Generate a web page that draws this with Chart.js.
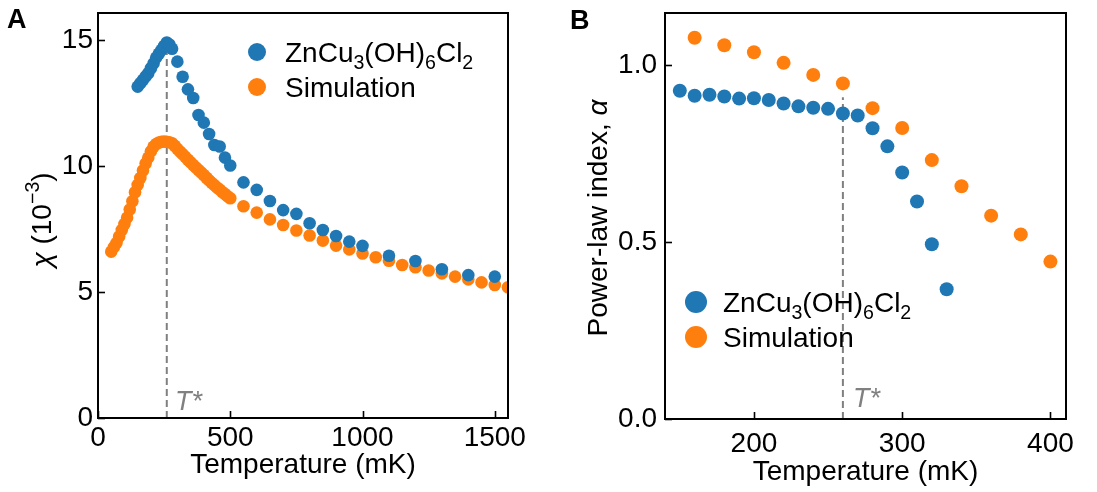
<!DOCTYPE html>
<html>
<head>
<meta charset="utf-8">
<script src="https://cdn.jsdelivr.net/npm/chart.js@4.4.0/dist/chart.umd.min.js"></script>
<style>
  html, body { margin: 0; padding: 0; background: #ffffff; }
  #wrap { position: relative; width: 1097px; height: 492px; overflow: hidden; }
  canvas { position: absolute; top: 0; }
  #chartA { left: 0; }
  #chartB { left: 548px; }
</style>
</head>
<body>
<div id="wrap">
  <canvas id="chartA" width="548" height="492"></canvas>
  <canvas id="chartB" width="549" height="492"></canvas>
</div>
<script>
// ---- Panel A: susceptibility vs temperature ----
const kagomeTempA = [150, 160, 170, 180, 190, 200, 210, 220, 230, 240, 250, 260, 270, 280,
  300, 320, 340, 360, 380, 400, 420, 440, 460, 480, 500,
  550, 600, 650, 700, 750, 800, 850, 900, 950, 1000, 1100, 1200, 1300, 1400, 1500];
const kagomeChiA = [13.15, 13.28, 13.41, 13.55, 13.68, 13.88, 14.07, 14.30, 14.45, 14.60, 14.76, 14.90, 14.82, 14.65,
  14.14, 13.54, 13.04, 12.70, 12.02, 11.72, 11.27, 10.83, 10.77, 10.33, 10.02,
  9.35, 9.05, 8.61, 8.25, 8.10, 7.73, 7.46, 7.22, 7.00, 6.83, 6.44, 6.23, 5.90, 5.67, 5.61];

const simTempA = [50, 60, 70, 80, 90, 100, 110, 120, 130, 140, 150, 160, 170, 180, 190, 200,
  210, 220, 230, 240, 250, 260, 270, 280, 290, 300, 310, 320, 330, 340, 350, 360, 370, 380,
  390, 400, 410, 420, 430, 440, 450, 460, 470, 480, 490, 500,
  550, 600, 650, 700, 750, 800, 850, 900, 950, 1000, 1050, 1100, 1150, 1200, 1250, 1300,
  1350, 1400, 1450, 1500, 1550];
const simChiA = [6.60, 6.78, 6.95, 7.20, 7.46, 7.70, 7.95, 8.27, 8.60, 8.96, 9.25, 9.52, 9.82, 10.10, 10.33, 10.58,
  10.76, 10.87, 10.93, 10.96, 10.97, 10.96, 10.94, 10.90, 10.80, 10.68, 10.57, 10.47, 10.36, 10.25, 10.15, 10.04, 9.94, 9.84,
  9.74, 9.64, 9.53, 9.43, 9.33, 9.24, 9.14, 9.06, 8.97, 8.89, 8.80, 8.72,
  8.40, 8.15, 7.88, 7.66, 7.44, 7.24, 7.04, 6.84, 6.69, 6.53, 6.38, 6.24, 6.07, 5.98, 5.85, 5.74,
  5.61, 5.50, 5.38, 5.28, 5.19];

const ticksXA = [0, 500, 1000, 1500];
const ticksYA = [0, 5, 10, 15];

// ---- Panel B: power-law index vs temperature ----
const kagomeTempB = [150, 160, 170, 180, 190, 200, 210, 220, 230, 240, 250, 260, 270, 280, 290, 300, 310, 320, 330];
const kagomeAlphaB = [0.928, 0.914, 0.917, 0.912, 0.906, 0.907, 0.902, 0.892, 0.884, 0.880, 0.877, 0.864, 0.858,
  0.822, 0.771, 0.697, 0.615, 0.494, 0.367];
const simTempB = [160, 180, 200, 220, 240, 260, 280, 300, 320, 340, 360, 380, 400];
const simAlphaB = [1.078, 1.057, 1.037, 1.007, 0.973, 0.949, 0.879, 0.823, 0.732, 0.658, 0.575, 0.522, 0.445];

const ticksXB = [200, 300, 400];
const ticksYB = [0.0, 0.5, 1.0];

// crossover temperature T* and the heights of its marker line
const tStar = 260;
const tStarTopA = 14.85;
const tStarTopB = 0.91;

const seriesNames = ['ZnCu3(OH)6Cl2', 'Simulation'];

const BLUE = '#1f77b4';
const ORANGE = '#ff7f0e';
const GREY = '#808080';
const FONT = '"Liberation Sans", Arial, Helvetica, sans-serif';
const TXT = 28;

Chart.defaults.font.family = FONT;
Chart.defaults.color = '#000000';

function pts(xs, ys) { return xs.map((x, i) => ({ x: x, y: ys[i] })); }

// text with sub/superscript pieces, drawn left to right from (x, y) baseline
function richWidth(ctx, parts, size) {
  let w = 0;
  parts.forEach(p => {
    const s = (p.sub || p.sup) ? size * 0.7 : size;
    ctx.font = (p.italic ? 'italic ' : '') + s + 'px ' + FONT;
    w += ctx.measureText(p.t).width;
  });
  return w;
}
function drawRich(ctx, parts, x, y, size, color) {
  ctx.fillStyle = color || '#000';
  ctx.textBaseline = 'alphabetic';
  ctx.textAlign = 'left';
  parts.forEach(p => {
    const s = (p.sub || p.sup) ? size * 0.7 : size;
    ctx.font = (p.italic ? 'italic ' : '') + s + 'px ' + FONT;
    let dy = 0;
    if (p.sub) dy = size * 0.24;
    if (p.sup) dy = -size * 0.42;
    ctx.fillText(p.t, x, y + dy);
    x += ctx.measureText(p.t).width;
  });
}

const formulaParts = [{ t: 'ZnCu' }, { t: '3', sub: true }, { t: '(OH)' }, { t: '6', sub: true }, { t: 'Cl' }, { t: '2', sub: true }];

function panelPlugin(o) {
  return {
    id: 'panel' + o.letter,
    afterDatasetsDraw(chart) {
      const ctx = chart.ctx;
      const a = chart.chartArea;
      const xs = chart.scales.x, ys = chart.scales.y;
      ctx.save();
      ctx.strokeStyle = '#000';
      ctx.lineWidth = 1.6;
      // inward tick marks
      xs.ticks.forEach(t => {
        const px = Math.round(xs.getPixelForValue(t.value)) + 0.5;
        ctx.beginPath(); ctx.moveTo(px, a.bottom); ctx.lineTo(px, a.bottom - 7); ctx.stroke();
      });
      ys.ticks.forEach(t => {
        const py = Math.round(ys.getPixelForValue(t.value)) + 0.5;
        ctx.beginPath(); ctx.moveTo(a.left, py); ctx.lineTo(a.left + 7, py); ctx.stroke();
      });
      // frame
      ctx.lineWidth = 2;
      ctx.strokeRect(a.left, a.top, a.right - a.left, a.bottom - a.top);
      ctx.restore();
    },
    afterDraw(chart) {
      const ctx = chart.ctx;
      const a = chart.chartArea;
      const off = o.offset;
      ctx.save();
      // panel letter
      ctx.fillStyle = '#000';
      ctx.font = 'bold 27px ' + FONT;
      ctx.textAlign = 'left';
      ctx.textBaseline = 'alphabetic';
      ctx.fillText(o.letter, o.letterX - off, o.letterY);
      // T* label
      drawRich(ctx, [{ t: 'T*', italic: true }], o.tLabelX - off, o.tLabelY, 27, GREY);
      // x title
      ctx.fillStyle = '#000';
      ctx.font = TXT + 'px ' + FONT;
      ctx.textAlign = 'center';
      ctx.fillText('Temperature (mK)', (a.left + a.right) / 2, o.xTitleY);
      // y title, rotated
      ctx.translate(o.yTitleX - off, o.yTitleY);
      ctx.rotate(-Math.PI / 2);
      const w = richWidth(ctx, o.yTitleParts, TXT);
      drawRich(ctx, o.yTitleParts, -w / 2, 10, TXT, '#000');
      ctx.setTransform(1, 0, 0, 1, 0, 0);
      // legend
      const L = o.legend;
      [BLUE, ORANGE].forEach((c, i) => {
        const cy = L.y0 + i * L.dy;
        ctx.beginPath();
        ctx.arc(L.mx - off, cy, L.r, 0, Math.PI * 2);
        ctx.fillStyle = c;
        ctx.fill();
        const parts = i === 0 ? formulaParts : [{ t: seriesNames[1] }];
        drawRich(ctx, parts, L.tx - off, cy + 10, TXT, '#000');
      });
      ctx.restore();
    }
  };
}

function makeChart(id, o) {
  const fixTicks = arr => scale => { scale.ticks = arr.map(v => ({ value: v })); };
  return new Chart(document.getElementById(id), {
    type: 'scatter',
    data: {
      datasets: [
        {
          label: seriesNames[0],
          data: pts(o.blueX, o.blueY),
          backgroundColor: BLUE, borderWidth: 0,
          pointRadius: o.r, pointHoverRadius: o.r, order: 1, clip: 0
        },
        {
          label: seriesNames[1],
          data: pts(o.orangeX, o.orangeY),
          backgroundColor: ORANGE, borderWidth: 0,
          pointRadius: o.r, pointHoverRadius: o.r, order: 2, clip: 0
        },
        {
          label: 'T*',
          type: 'line',
          data: [{ x: tStar, y: 0 }, { x: tStar, y: o.tTop }],
          borderColor: GREY, borderWidth: 2, borderDash: [7, 4],
          pointRadius: 0, showLine: true, fill: false, order: 3
        }
      ]
    },
    options: {
      responsive: false,
      devicePixelRatio: 1,
      animation: false,
      events: [],
      layout: { padding: { left: 0, top: o.padTop, right: o.padRight, bottom: 0 } },
      plugins: { legend: { display: false }, tooltip: { enabled: false } },
      scales: {
        x: {
          type: 'linear', min: o.xMin, max: o.xMax,
          grid: { display: false, drawTicks: false },
          border: { display: false },
          afterBuildTicks: fixTicks(o.ticksX),
          afterFit: s => { s.height = o.xAxisH; s.paddingLeft = 0; s.paddingRight = 0; },
          ticks: { font: { size: TXT }, color: '#000', padding: o.xTickPad, maxRotation: 0,
                   callback: o.xFmt }
        },
        y: {
          type: 'linear', min: o.yMin, max: o.yMax,
          grid: { display: false, drawTicks: false },
          border: { display: false },
          afterBuildTicks: fixTicks(o.ticksY),
          afterFit: s => { s.width = o.yAxisW; s.paddingTop = 0; s.paddingBottom = 0; },
          ticks: { font: { size: TXT }, color: '#000', padding: o.yTickPad,
                   callback: o.yFmt }
        }
      }
    },
    plugins: [panelPlugin(o)]
  });
}

makeChart('chartA', {
  letter: 'A', offset: 0, letterX: 7, letterY: 28,
  blueX: kagomeTempA, blueY: kagomeChiA, orangeX: simTempA, orangeY: simChiA, r: 6.3,
  tTop: tStarTopA,
  xMin: 0, xMax: 1550, yMin: 0, yMax: 16.07, ticksX: ticksXA, ticksY: ticksYA,
  xFmt: v => String(v), yFmt: v => String(v),
  padTop: 13, padRight: 40, xAxisH: 74, yAxisW: 98, xTickPad: 3, yTickPad: 5,
  tLabelX: 175, tLabelY: 410,
  xTitleY: 473,
  yTitleX: 41, yTitleY: 220,
  yTitleParts: [{ t: 'χ', italic: true }, { t: ' (10' }, { t: '−3', sup: true }, { t: ')' }],
  legend: { mx: 257, tx: 285, y0: 52, dy: 35, r: 9 }
});

makeChart('chartB', {
  letter: 'B', offset: 548, letterX: 570, letterY: 29,
  blueX: kagomeTempB, blueY: kagomeAlphaB, orangeX: simTempB, orangeY: simAlphaB, r: 7,
  tTop: tStarTopB,
  xMin: 140, xMax: 410.5, yMin: 0, yMax: 1.148, ticksX: ticksXB, ticksY: ticksYB,
  xFmt: v => String(v), yFmt: v => v.toFixed(1),
  padTop: 13, padRight: 31, xAxisH: 73, yAxisW: 117, xTickPad: 8, yTickPad: 8,
  tLabelX: 853, tLabelY: 407,
  xTitleY: 480,
  yTitleX: 597, yTitleY: 218,
  yTitleParts: [{ t: 'Power-law index, ' }, { t: 'α', italic: true }],
  legend: { mx: 696, tx: 723, y0: 302, dy: 35, r: 11 }
});
</script>
</body>
</html>
